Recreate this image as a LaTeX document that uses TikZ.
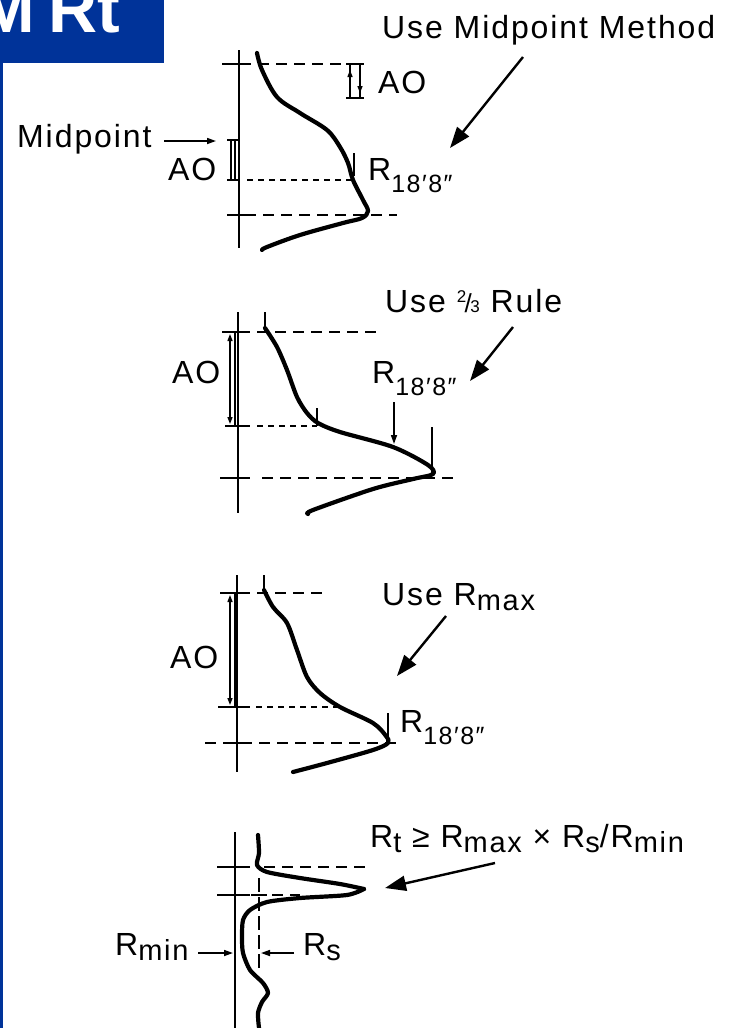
\documentclass[tikz,border=0pt]{standalone}
\usepackage{fontspec}
\setmainfont{Liberation Sans}
\newfontfamily\labfont[LetterSpace=6]{Liberation Sans}
\newfontfamily\ttlfont{Liberation Sans}
\usetikzlibrary{arrows.meta}
\definecolor{slideblue}{RGB}{0,51,153}
\newcommand{\dsub}[1]{\raisebox{-12pt}{\fontsize{25}{25}\selectfont #1}}
\newcommand{\lsub}[1]{\raisebox{-5pt}{\fontsize{29}{29}\selectfont #1}}
\newcommand{\twothirds}{\raisebox{10pt}{\fontsize{17}{17}\selectfont 2}\kern-1.5pt{\fontsize{26}{26}\selectfont/}\kern-1.5pt{\fontsize{17}{17}\selectfont 3}}
\begin{document}
\begin{tikzpicture}[x=1pt,y=-1pt,
  axisline/.style={line width=1.8pt},
  curveline/.style={line width=4.2pt,line cap=round,line join=round},
  ldash/.style={line width=1.8pt,dash pattern=on 11pt off 7pt},
  sdash/.style={line width=1.5pt,dash pattern=on 6pt off 5pt},
  tickline/.style={line width=1.8pt},
  dimline/.style={line width=1.3pt},
  bigarrow/.style={line width=2.4pt,-{Triangle[length=21pt,width=15pt]}},
  smallarrow/.style={line width=1.6pt,-{Triangle[length=9pt,width=6pt]}},
  tinyarrow/.style={line width=1.3pt,-{Triangle[length=7pt,width=5pt]}},
  lbl/.style={inner sep=0pt,anchor=base west,font=\labfont\fontsize{32}{38}\selectfont},
]
\useasboundingbox (0,0) rectangle (732,1028);
% title bar
\begin{scope}
\clip (0,0) rectangle (164,63);
\fill[slideblue] (0,0) rectangle (164,63);
\node[inner sep=0pt,anchor=base west,text=white,font=\ttlfont\bfseries\fontsize{68}{70}\selectfont] (title) at (-22,32) {M\hspace{14pt}Rt};
\end{scope}
\fill[slideblue] (0,63) rectangle (2.5,1028);

% ===== Panel 1: midpoint method
\draw[axisline] (239,50)--(239,248);
\draw[ldash] (222,64)--(345,64);
\draw[tickline] (229,64)--(249,64);
\draw[sdash] (247,180)--(352,180);
\draw[ldash] (227,215)--(397,215);
\draw[tickline] (227,215)--(249,215);
\draw[curveline] plot[smooth,tension=0.55] coordinates {(257,53) (262,70) (277,97) (300,113) (327,130) (340,147) (348,163) (353,180) (363,200) (368,211) (362,218) (343,223) (300,235) (267,247) (262,250)};
\draw[line width=2.4pt] (354,153)--(354,176);
% right AO dimension
\draw[tickline] (346,64)--(364,64);
\draw[tickline] (346,98)--(364,98);
\draw[dimline] (350,64)--(350,98);
\draw[dimline] (360,64)--(360,98);
\draw[tinyarrow] (350,88)--(350,70);
\draw[tinyarrow] (360,74)--(360,93);
\node[lbl] (ao1) at (378,93) {AO};
\node[lbl] (use1) at (382,38) {Use Midpoint Method};
\coordinate (a1s) at (523,57);
\coordinate (a1e) at (450,148);
\draw[bigarrow] (a1s)--(a1e);
\node[lbl] (r1) at (368,180) {R\dsub{18′8″}};
% left AO dimension
\node[lbl] (mid) at (17,147) {Midpoint};
\coordinate (mids) at (164,141);
\coordinate (mide) at (216,141);
\draw[smallarrow] (mids)--(mide);
\draw[tickline] (227,140)--(239,140);
\draw[tickline] (227,180)--(239,180);
\draw[dimline] (231,140)--(231,180);
\draw[dimline] (235,140)--(235,180);
\node[lbl] (ao2) at (168,180) {AO};

% ===== Panel 2: 2/3 rule
\draw[axisline] (238,312)--(238,513);
\draw[tickline] (222,332)--(250,332);
\draw[ldash] (257,332)--(380,332);
\draw[tickline] (225,426)--(250,426);
\draw[sdash] (257,426)--(317,426);
\draw[tickline] (220,478)--(250,478);
\draw[ldash] (262,478)--(455,478);
\draw[line width=2pt] (265,312)--(265,332);
\draw[curveline] plot[smooth,tension=0.5] coordinates {(265,328) (277,347) (287,370) (297,397) (307,413) (318,423) (340,432) (393,447) (428,465) (433,474) (413,479) (373,489) (313,510) (308,514)};
\draw[line width=1.8pt] (317,408)--(317,426);
\draw[line width=1.8pt] (432,427)--(432,476);
\coordinate (r2s) at (394,402);
\coordinate (r2e) at (394,444);
\draw[smallarrow] (r2s)--(r2e);
\draw[tinyarrow] (230,380)--(230,334);
\draw[tinyarrow] (230,380)--(230,424);
\draw[dimline] (235,332)--(235,426);
\node[lbl] (ao3) at (172,383) {AO};
\node[lbl] (r2) at (372,383) {R\dsub{18′8″}};
\node[lbl] (use2) at (385,312) {Use \twothirds{} Rule};
\coordinate (a2s) at (513,327);
\coordinate (a2e) at (470,381);
\draw[bigarrow] (a2s)--(a2e);

% ===== Panel 3: Rmax
\draw[axisline] (237,575)--(237,772);
\draw[tickline] (220,593)--(250,593);
\draw[ldash] (257,593)--(322,593);
\draw[tickline] (218,707)--(250,707);
\draw[sdash] (256,707)--(340,707);
\draw[ldash] (205,743)--(403,743);
\draw[tickline] (227,743)--(247,743);
\draw[line width=2pt] (264,575)--(264,593);
\draw[curveline] plot[smooth,tension=0.5] coordinates {(264,590) (273,607) (287,623) (297,650) (307,677) (320,693) (340,707) (373,723) (386,736) (388,743) (373,750) (327,763) (293,772)};
\draw[line width=1.8pt] (388,713)--(388,745);
\draw[tinyarrow] (230,650)--(230,595);
\draw[tinyarrow] (230,650)--(230,705);
\draw[dimline] (235,593)--(235,707);
\node[lbl] (ao4) at (170,668) {AO};
\node[lbl] (use3) at (382,605) {Use R\lsub{max}};
\coordinate (a3s) at (446,616);
\coordinate (a3e) at (397,676);
\draw[bigarrow] (a3s)--(a3e);
\node[lbl] (r3) at (400,732) {R\dsub{18′8″}};

% ===== Panel 4: Rt formula
\draw[axisline] (235,832)--(235,1028);
\draw[tickline] (217,867)--(250,867);
\draw[ldash] (264,867)--(370,867);
\draw[tickline] (217,895)--(250,895);
\draw[tickline] (251,895)--(267,895);
\draw[ldash] (272,895)--(300,895);
\draw[line width=1.5pt,dash pattern=on 14pt off 5pt] (259,878)--(259,968);
\draw[curveline] plot[smooth,tension=0.45] coordinates {(258,835) (259,853) (257,865) (267,872) (300,878) (340,884) (364,889)};
\draw[curveline] plot[smooth,tension=0.45] coordinates {(364,889) (347,895) (300,898) (267,902) (250,910) (243,920) (242,937) (243,953) (250,970) (263,983) (268,993) (262,1002) (258,1013) (259,1028)};
\node[lbl] (rt) at (370,847) {R\lsub{t} ≥ R\lsub{max} × R\lsub{s}/R\lsub{min}};
\coordinate (a4s) at (495,863);
\coordinate (a4e) at (385,888);
\draw[bigarrow] (a4s)--(a4e);
\node[lbl] (rmin) at (115,955) {R\lsub{min}};
\coordinate (rmins) at (198,953);
\coordinate (rmine) at (233,953);
\draw[smallarrow] (rmins)--(rmine);
\node[lbl] (rs) at (303,955) {R\lsub{s}};
\coordinate (rss) at (294,953);
\coordinate (rse) at (261,953);
\draw[smallarrow] (rss)--(rse);
\end{tikzpicture}
\end{document}
